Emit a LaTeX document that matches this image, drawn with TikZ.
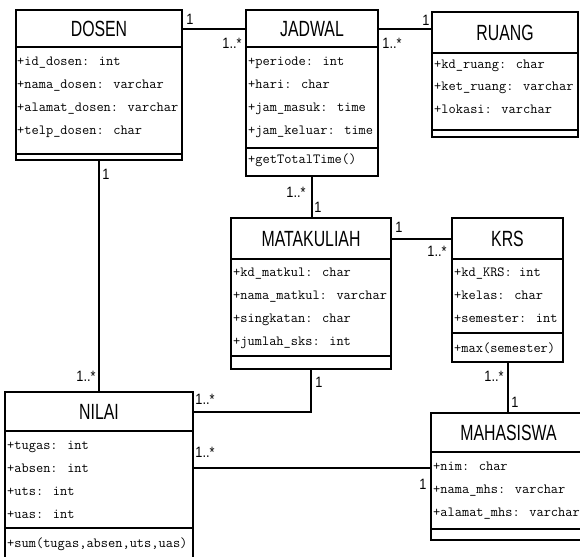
\documentclass[tikz,border=0pt]{standalone}
\usepackage{fontspec}
\newfontfamily\titlefont[FakeStretch=0.72]{Liberation Sans}
\newfontfamily\labfont[FakeStretch=0.85]{Liberation Sans}
\tikzset{
  cls/.style={draw, line width=2pt, inner sep=0pt, fill=white},
  sepline/.style={line width=2pt},
  conn/.style={line width=2pt},
  ttl/.style={font=\titlefont\fontsize{22}{22}\selectfont, inner sep=0pt},
  attr/.style={font=\ttfamily\fontsize{14}{16}\selectfont, anchor=west, inner sep=0pt, text height=8.5pt, text depth=2.5pt},
  mult/.style={font=\labfont\fontsize{15}{15}\selectfont, inner sep=0pt},
}
\begin{document}
\begin{tikzpicture}[x=1pt,y=-1pt]
\useasboundingbox (0,0) rectangle (580,556);
\clip (0,0) rectangle (580,556);
\fill[white] (0,0) rectangle (580,556);

% ---------- DOSEN ----------
\node[cls, minimum width=166pt, minimum height=150pt] (dosen) at (99,85) {};
\draw[sepline] (16,47) -- (182,47);
\draw[sepline] (16,154) -- (182,154);
\node[ttl] (dosenT) at (99,29) {DOSEN};
\node[attr] (dosenA1) at (17,63) {+id\_dosen: int};
\node[attr] (dosenA2) at (17,86) {+nama\_dosen: varchar};
\node[attr] (dosenA3) at (17,109) {+alamat\_dosen: varchar};
\node[attr] (dosenA4) at (17,132) {+telp\_dosen: char};

% ---------- JADWAL ----------
\node[cls, minimum width=132pt, minimum height=166pt] (jadwal) at (312,93) {};
\draw[sepline] (246,47) -- (378,47);
\draw[sepline] (246,148) -- (378,148);
\node[ttl] (jadwalT) at (312,29) {JADWAL};
\node[attr] (jadwalA1) at (248,63) {+periode: int};
\node[attr] (jadwalA2) at (248,86) {+hari: char};
\node[attr] (jadwalA3) at (248,109) {+jam\_masuk: time};
\node[attr] (jadwalA4) at (248,132) {+jam\_keluar: time};
\node[attr] (jadwalM1) at (248,161) {+getTotalTime()};

% ---------- RUANG ----------
\node[cls, minimum width=146pt, minimum height=125pt] (ruang) at (505,74.5) {};
\draw[sepline] (432,53) -- (578,53);
\draw[sepline] (432,130) -- (578,130);
\node[ttl] (ruangT) at (505,33) {RUANG};
\node[attr] (ruangA1) at (434,66) {+kd\_ruang: char};
\node[attr] (ruangA2) at (434,88) {+ket\_ruang: varchar};
\node[attr] (ruangA3) at (434,111) {+lokasi: varchar};

% ---------- MATAKULIAH ----------
\node[cls, minimum width=160pt, minimum height=151pt] (matkul) at (311,293.5) {};
\draw[sepline] (231,259) -- (391,259);
\draw[sepline] (231,356) -- (391,356);
\node[ttl] (matkulT) at (311,239) {MATAKULIAH};
\node[attr] (matkulA1) at (233,273) {+kd\_matkul: char};
\node[attr] (matkulA2) at (233,296) {+nama\_matkul: varchar};
\node[attr] (matkulA3) at (233,319) {+singkatan: char};
\node[attr] (matkulA4) at (233,342) {+jumlah\_sks: int};

% ---------- KRS ----------
\node[cls, minimum width=111pt, minimum height=144pt] (krs) at (507.5,290) {};
\draw[sepline] (452,259) -- (563,259);
\draw[sepline] (452,333) -- (563,333);
\node[ttl] (krsT) at (507.5,239) {KRS};
\node[attr] (krsA1) at (454,273) {+kd\_KRS: int};
\node[attr] (krsA2) at (454,296) {+kelas: char};
\node[attr] (krsA3) at (454,319) {+semester: int};
\node[attr] (krsM1) at (454,349) {+max(semester)};

% ---------- NILAI ----------
\node[cls, minimum width=188pt, minimum height=173pt] (nilai) at (99,478.5) {};
\draw[sepline] (5,431) -- (193,431);
\draw[sepline] (5,528) -- (193,528);
\node[ttl] (nilaiT) at (99,411.5) {NILAI};
\node[attr] (nilaiA1) at (7,446) {+tugas: int};
\node[attr] (nilaiA2) at (7,469) {+absen: int};
\node[attr] (nilaiA3) at (7,492) {+uts: int};
\node[attr] (nilaiA4) at (7,515) {+uas: int};
\node[attr] (nilaiM1) at (7,544) {+sum(tugas,absen,uts,uas)};

% ---------- MAHASISWA ----------
\node[cls, minimum width=155pt, minimum height=127pt] (mhs) at (508.5,476.5) {};
\draw[sepline] (431,452) -- (586,452);
\draw[sepline] (431,529) -- (586,529);
\node[ttl] (mhsT) at (508.5,433) {MAHASISWA};
\node[attr] (mhsA1) at (433,467) {+nim: char};
\node[attr] (mhsA2) at (433,490) {+nama\_mhs: varchar};
\node[attr] (mhsA3) at (433,513) {+alamat\_mhs: varchar};

% ---------- connectors ----------
\coordinate (nmY) at (0,468);
\draw[conn] (dosen.east |- jadwalT) -- (jadwal.west |- jadwalT);
\draw[conn] (jadwal.east |- jadwalT) -- (ruang.west |- jadwalT);
\draw[conn] (jadwal.south) -- (jadwal.south |- matkul.north);
\draw[conn] (matkul.east |- krsT) -- (krs.west |- krsT);
\draw[conn] (krs.south) -- (krs.south |- mhs.north);
\draw[conn] (dosen.south) -- (nilai.north);
\draw[conn] (matkul.south) -- (matkul.south |- nilaiT) -- (nilai.east |- nilaiT);
\draw[conn] (nilai.east |- nmY) -- (mhs.west |- nmY);

% ---------- multiplicities ----------
\node[mult] (m1) at (190,19) {1};
\node[mult] (m2) at (232,43) {1..*};
\node[mult] (m3) at (392,43) {1..*};
\node[mult] (m4) at (426,20) {1};
\node[mult] (m5) at (296,192) {1..*};
\node[mult] (m6) at (318,207) {1};
\node[mult] (m7) at (399,227) {1};
\node[mult] (m8) at (437,251) {1..*};
\node[mult] (m9) at (494,376) {1..*};
\node[mult] (m10) at (515,402) {1};
\node[mult] (m11) at (106,174) {1};
\node[mult] (m12) at (86,376) {1..*};
\node[mult] (m13) at (319,382) {1};
\node[mult] (m14) at (205,399) {1..*};
\node[mult] (m15) at (205,452) {1..*};
\node[mult] (m16) at (423,484) {1};
\end{tikzpicture}
\end{document}
